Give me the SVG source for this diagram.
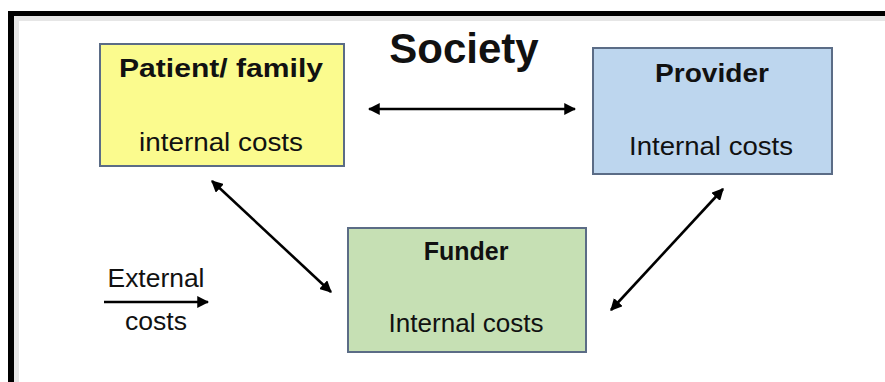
<svg xmlns="http://www.w3.org/2000/svg" width="885" height="382" viewBox="0 0 885 382">
<style>
.box{stroke:#5b6c86;stroke-width:2}
.t{font-family:"Liberation Sans",Arial,sans-serif;fill:#111;text-anchor:middle}
.b{font-weight:bold}
.conn{stroke:#000;stroke-width:2.6;fill:none}
</style>
<defs>
<marker id="ah" viewBox="0 0 10 10" refX="9" refY="5" markerWidth="4.6" markerHeight="4.6" orient="auto-start-reverse" markerUnits="strokeWidth">
<path d="M0,0 L10,5 L0,10 Z" fill="#000"/>
</marker>
</defs>
<rect x="0" y="0" width="885" height="382" fill="#fff"/>
<g id="frame">
<rect x="14" y="16" width="871" height="5" fill="#e6e6e6"/>
<rect x="14" y="16" width="5" height="366" fill="#e6e6e6"/>
<rect x="8" y="11" width="877" height="5" fill="#000"/>
<rect x="8" y="11" width="6" height="371" fill="#000"/>
</g>
<g id="society">
<text class="t b" x="464" y="63" font-size="42">Society</text>
</g>
<g id="patient">
<rect class="box" x="100" y="44" width="244" height="122" fill="#fbfb8e"/>
<text class="t b" x="221" y="77" font-size="25" textLength="204" lengthAdjust="spacingAndGlyphs">Patient/ family</text>
<text class="t" x="221" y="151" font-size="26" textLength="164" lengthAdjust="spacingAndGlyphs">internal costs</text>
</g>
<g id="provider">
<rect class="box" x="593" y="48" width="239" height="126" fill="#bdd6ee"/>
<text class="t b" x="712" y="82" font-size="26" textLength="114" lengthAdjust="spacingAndGlyphs">Provider</text>
<text class="t" x="711" y="155" font-size="26" textLength="164" lengthAdjust="spacingAndGlyphs">Internal costs</text>
</g>
<g id="funder">
<rect class="box" x="348" y="228" width="238" height="124" fill="#c6e0b4"/>
<text class="t b" x="466" y="260" font-size="25">Funder</text>
<text class="t" x="466" y="332" font-size="26" textLength="155" lengthAdjust="spacingAndGlyphs">Internal costs</text>
</g>
<g id="external">
<text class="t" x="156" y="287" font-size="26" textLength="97" lengthAdjust="spacingAndGlyphs">External</text>
<text class="t" x="156" y="330" font-size="26" textLength="62" lengthAdjust="spacingAndGlyphs">costs</text>
</g>
<g id="connectors">
<line class="conn" x1="369" y1="109" x2="575" y2="109" marker-start="url(#ah)" marker-end="url(#ah)"/>
<line class="conn" x1="212" y1="181" x2="331" y2="292" marker-start="url(#ah)" marker-end="url(#ah)"/>
<line class="conn" x1="723" y1="189" x2="611" y2="310" marker-start="url(#ah)" marker-end="url(#ah)"/>
<line class="conn" x1="104" y1="302" x2="208" y2="302" marker-end="url(#ah)"/>
</g>
</svg>
